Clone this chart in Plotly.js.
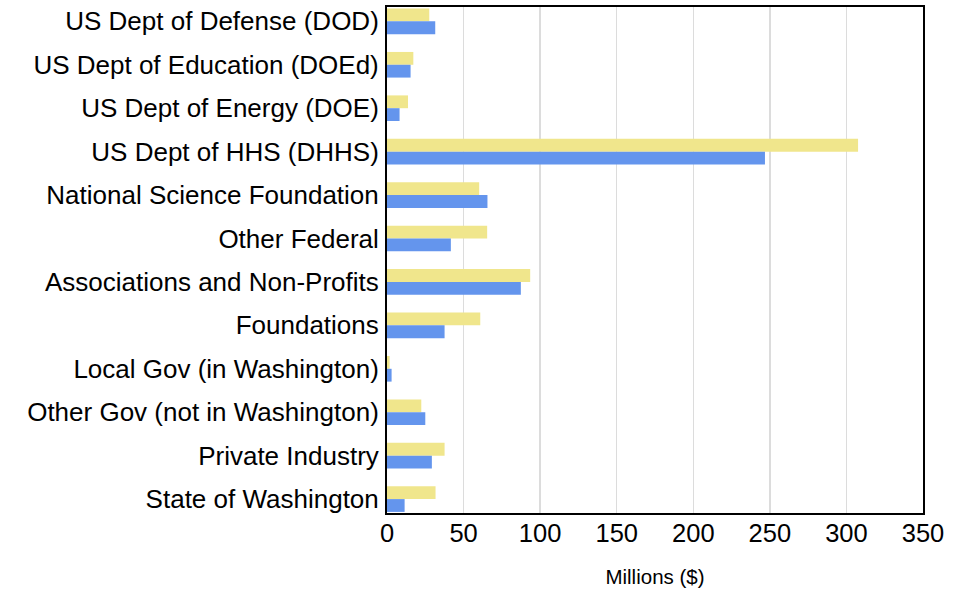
<!DOCTYPE html>
<html>
<head>
<meta charset="utf-8">
<script src="https://cdn.plot.ly/plotly-3.0.1.min.js"></script>
<style>
html,body{margin:0;padding:0;background:#fff;}
#chart{width:961px;height:594px;}
</style>
</head>
<body>
<div id="chart"></div>
<script>
const categories = [
  "US Dept of Defense (DOD)",
  "US Dept of Education (DOEd)",
  "US Dept of Energy (DOE)",
  "US Dept of HHS (DHHS)",
  "National Science Foundation",
  "Other Federal",
  "Associations and Non-Profits",
  "Foundations",
  "Local Gov (in Washington)",
  "Other Gov (not in Washington)",
  "Private Industry",
  "State of Washington"
];
const seriesYellow = [27.6, 17.2, 13.7, 307.6, 60.2, 65.4, 93.5, 60.9, 1.7, 22.4, 37.6, 31.7];
const seriesBlue   = [31.5, 15.4, 8.2, 246.8, 65.6, 41.7, 87.4, 37.6, 3.0, 25.0, 29.3, 11.5];
const xTickValues = [0, 50, 100, 150, 200, 250, 300, 350];

const font = "'Liberation Sans', Arial, sans-serif";

const traces = [
  {type: "bar", orientation: "h", y: categories, x: seriesYellow,
   marker: {color: "#F0E68C", line: {width: 0}}, hoverinfo: "x+y", name: "A"},
  {type: "bar", orientation: "h", y: categories, x: seriesBlue,
   marker: {color: "#6495ED", line: {width: 0}}, hoverinfo: "x+y", name: "B"}
];

const layout = {
  width: 961, height: 594,
  margin: {l: 387, r: 38, t: 7, b: 81, pad: 0},
  paper_bgcolor: "#fff", plot_bgcolor: "#fff",
  showlegend: false,
  barmode: "group",
  bargap: 0.41,
  bargroupgap: 0,
  font: {family: font, color: "#000"},
  xaxis: {
    range: [0, 350],
    tickvals: xTickValues,
    ticktext: xTickValues.map(String),
    tickfont: {size: 25.5, family: font, color: "#000"},
    showgrid: true, gridcolor: "#dcdcdc", gridwidth: 1.5,
    zeroline: false,
    showline: true, linecolor: "#000", linewidth: 2, mirror: true,
    ticks: "",
    ticklabelstandoff: -4,
    title: {text: "Millions ($)", font: {size: 20.5, family: font, color: "#000"}, standoff: 24}
  },
  yaxis: {
    type: "category",
    range: [11.32, -0.33],
    tickfont: {size: 26, family: font, color: "#000"},
    showgrid: false, zeroline: false,
    showline: true, linecolor: "#000", linewidth: 2, mirror: true,
    ticks: "",
    ticklabelstandoff: 1
  }
};

Plotly.newPlot("chart", traces, layout, {displayModeBar: false, staticPlot: true});
</script>
</body>
</html>
